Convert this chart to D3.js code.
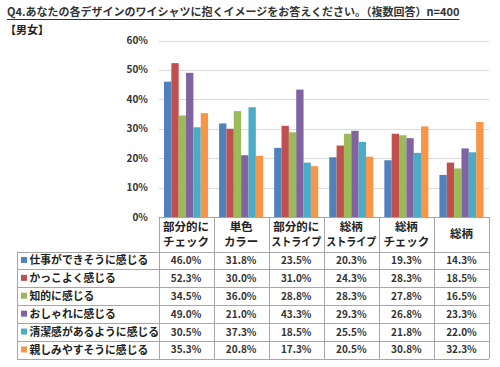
<!DOCTYPE html>
<html>
<head>
<meta charset="utf-8">
<script src="https://cdn.jsdelivr.net/npm/d3@7"></script>
<style>
  body { margin: 0; background: #fff; }
  svg { display: block; font-family: "Noto Sans CJK JP", "Noto Sans", sans-serif; }
</style>
</head>
<body>
<div id="chart"></div>
<script>
const title = 'Q4.あなたの各デザインのワイシャツに抱くイメージをお答えください。（複数回答）n=400';
const subtitle = '【男女】';

// columns (header lines)
const categories = [
  ['部分的に', 'チェック'],
  ['単色', 'カラー'],
  ['部分的に', 'ストライプ'],
  ['総柄', 'ストライプ'],
  ['総柄', 'チェック'],
  ['総柄']
];

const seriesNames = [
  '仕事ができそうに感じる',
  'かっこよく感じる',
  '知的に感じる',
  'おしゃれに感じる',
  '清潔感があるように感じる',
  '親しみやすそうに感じる'
];

const shigoto   = [46.0, 31.8, 23.5, 20.3, 19.3, 14.3];
const kakkoyoku = [52.3, 30.0, 31.0, 24.3, 28.3, 18.5];
const chiteki   = [34.5, 36.0, 28.8, 28.3, 27.8, 16.5];
const oshare    = [49.0, 21.0, 43.3, 29.3, 26.8, 23.3];
const seiketsu  = [30.5, 37.3, 18.5, 25.5, 21.8, 22.0];
const shitashimi = [35.3, 20.8, 17.3, 20.5, 30.8, 32.3];

const yTicks = [0, 10, 20, 30, 40, 50, 60];

const colors = ['#4f81bd', '#c0504d', '#9bbb59', '#8064a2', '#4bacc6', '#f79646'];

const seriesValues = [shigoto, kakkoyoku, chiteki, oshare, seiketsu, shitashimi];

const width = 500, height = 367;
const plot = { left: 158.5, right: 489, top: 40.5, bottom: 217 };
const table = { left: 17, headerBottom: 251.5, rowH: 17.9 };

const svg = d3.select('#chart').append('svg')
  .attr('width', width)
  .attr('height', height);

// title
const t = svg.append('text')
  .attr('x', 7).attr('y', 16)
  .attr('font-size', 11)
  .attr('font-weight', 'bold')
  .attr('fill', '#333')
  .text(title);
const tw = t.node().getComputedTextLength();
svg.append('line')
  .attr('x1', 7).attr('x2', 7 + tw)
  .attr('y1', 19.5).attr('y2', 19.5)
  .attr('stroke', '#333').attr('stroke-width', 1);

svg.append('text')
  .attr('x', 5).attr('y', 34)
  .attr('font-size', 11)
  .attr('font-weight', 'bold')
  .attr('fill', '#222')
  .text(subtitle);

// scales
const x0 = d3.scaleBand()
  .domain(d3.range(categories.length))
  .range([plot.left, plot.right])
  .paddingInner(0).paddingOuter(0);

const x1 = d3.scaleBand()
  .domain(d3.range(seriesNames.length))
  .range([0, x0.bandwidth()])
  .paddingInner(0)
  .paddingOuter(0.75);

const y = d3.scaleLinear().domain([0, 60]).range([plot.bottom, plot.top]);

// gridlines
svg.append('g')
  .selectAll('line')
  .data(yTicks.filter(d => d > 0))
  .join('line')
  .attr('x1', plot.left).attr('x2', plot.right)
  .attr('y1', d => Math.round(y(d)) + 0.5)
  .attr('y2', d => Math.round(y(d)) + 0.5)
  .attr('stroke', '#dcdcdc');

// y axis labels
svg.append('g')
  .selectAll('text')
  .data(yTicks)
  .join('text')
  .attr('x', 148)
  .attr('y', d => y(d) + 3.5)
  .attr('text-anchor', 'end')
  .attr('font-size', 10)
  .attr('font-weight', 'bold')
  .attr('fill', '#333')
  .text(d => d + '%');

// bars
const groups = svg.append('g')
  .selectAll('g')
  .data(categories.map((c, i) => i))
  .join('g')
  .attr('transform', i => `translate(${x0(i)},0)`);

groups.selectAll('rect')
  .data(i => seriesValues.map((vals, s) => ({ s, v: vals[i] })))
  .join('rect')
  .attr('x', d => x1(d.s))
  .attr('width', x1.bandwidth())
  .attr('y', d => y(d.v))
  .attr('height', d => y(0) - y(d.v))
  .attr('fill', d => colors[d.s]);

// table
const tg = svg.append('g');
const lineColor = '#a6a6a6';
const nRows = seriesNames.length;
const tableBottom = table.headerBottom + nRows * table.rowH;

// header cells
categories.forEach((lines, i) => {
  const cx = x0(i) + x0.bandwidth() / 2;
  const midY = (plot.bottom + table.headerBottom) / 2;
  lines.forEach((ln, k) => {
    const txt = tg.append('text')
      .attr('x', cx)
      .attr('y', midY + 4 + (k - (lines.length - 1) / 2) * 15)
      .attr('text-anchor', 'middle')
      .attr('font-size', 11.5)
      .attr('font-weight', 'bold')
      .attr('fill', '#222')
      .text(ln);
    // squeeze long katakana lines into the cell
    if (txt.node().getComputedTextLength() > 50) {
      txt.attr('textLength', 50).attr('lengthAdjust', 'spacingAndGlyphs');
    }
  });
});

// horizontal lines
tg.append('line')
  .attr('x1', plot.left).attr('x2', plot.right)
  .attr('y1', plot.bottom + 0.5).attr('y2', plot.bottom + 0.5)
  .attr('stroke', lineColor);
d3.range(nRows + 1).forEach(r => {
  const yy = Math.round(table.headerBottom + r * table.rowH) + 0.5;
  tg.append('line')
    .attr('x1', table.left).attr('x2', plot.right)
    .attr('y1', yy).attr('y2', yy)
    .attr('stroke', lineColor);
});

// vertical lines
tg.append('line')
  .attr('x1', table.left + 0.5).attr('x2', table.left + 0.5)
  .attr('y1', table.headerBottom).attr('y2', tableBottom)
  .attr('stroke', lineColor);
d3.range(categories.length + 1).forEach(i => {
  const xx = Math.round(i < categories.length ? x0(i) : plot.right) + 0.5;
  tg.append('line')
    .attr('x1', xx).attr('x2', xx)
    .attr('y1', plot.bottom).attr('y2', tableBottom)
    .attr('stroke', lineColor);
});

// row labels and values
seriesNames.forEach((name, r) => {
  const cy = table.headerBottom + (r + 0.5) * table.rowH;
  tg.append('rect')
    .attr('x', 21).attr('y', cy - 3.5)
    .attr('width', 6).attr('height', 6)
    .attr('fill', colors[r]);
  tg.append('text')
    .attr('x', 29.5).attr('y', cy + 4)
    .attr('font-size', 10.8)
    .attr('font-weight', 'bold')
    .attr('fill', '#222')
    .text(name);
  seriesValues[r].forEach((v, i) => {
    tg.append('text')
      .attr('x', x0(i) + x0.bandwidth() / 2)
      .attr('y', cy + 3.5)
      .attr('text-anchor', 'middle')
      .attr('font-size', 10)
      .attr('font-weight', 'bold')
      .attr('fill', '#333')
      .text(v.toFixed(1) + '%');
  });
});
</script>
</body>
</html>
